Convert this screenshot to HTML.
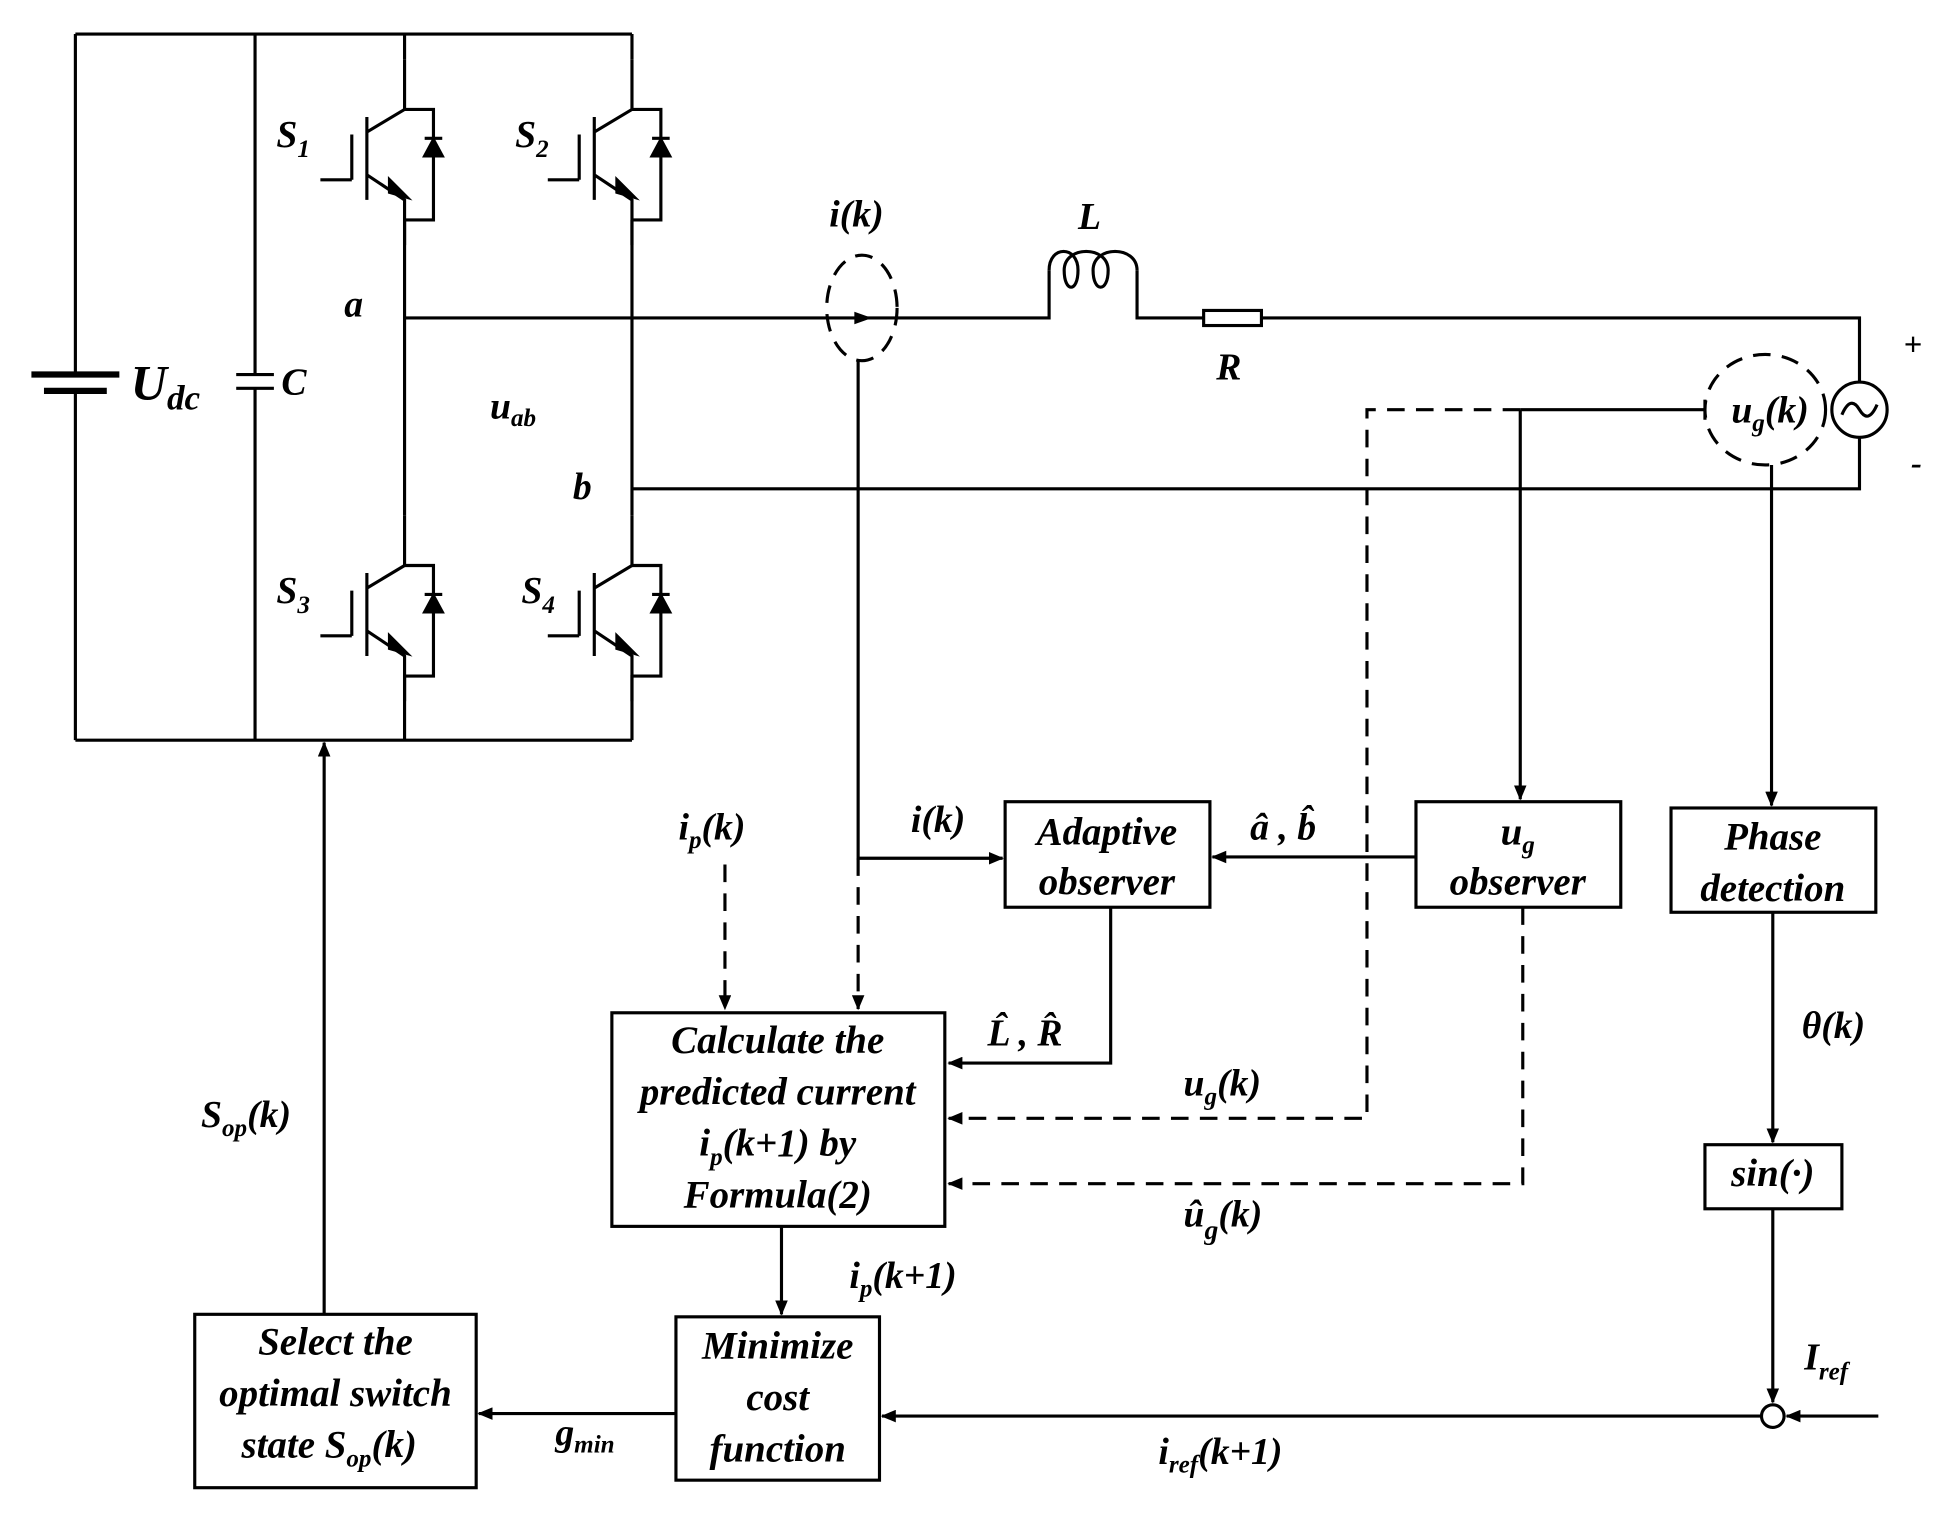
<!DOCTYPE html>
<html><head><meta charset="utf-8"><style>
html,body{margin:0;padding:0;background:#fff}
svg{display:block}
text{font-family:"Liberation Serif",serif;font-weight:bold;font-style:italic;fill:#000}
</style></head><body>
<svg width="1960" height="1523" viewBox="0 0 1560 1212" xmlns="http://www.w3.org/2000/svg">
<defs>
<marker id="a" markerWidth="12" markerHeight="10" refX="11" refY="5" orient="auto" markerUnits="userSpaceOnUse"><path d="M0,0 L12,5 L0,10 z" fill="#000"/></marker>
<g id="igbt">
<line x1="0" y1="0" x2="0" y2="40" />
<path d="M0,40 L-30,58 M-30,46 V112 M-42,60 V96 M-67,96 H-42 M-30,92 L0,112 V148" />
<path d="M-12,96 L2,110 L-12,106 z" fill="#000"/>
<path d="M0,40 H23 V128 H0" />
<path d="M16,77 H30 L23,64 z" fill="#000"/>
<line x1="16" y1="63" x2="30" y2="63"/>
</g>
</defs>
<g fill="none" stroke="#000" stroke-width="2.5">
<path d="M60,27 H503 M60,589 H503 M60,27 V296 M60,313 V589 M203,27 V298 M203,309 V589"/>
<line x1="25" y1="298" x2="95" y2="298" stroke-width="5"/>
<line x1="35" y1="311" x2="85" y2="311" stroke-width="5"/>
<path d="M188,298 H218 M188,309 H218"/>
<path d="M322,27 V47 M322,175 V410 M322,537 V589 M503,27 V47 M503,175 V410 M503,537 V589"/>
<use href="#igbt" x="322" y="47"/>
<use href="#igbt" x="503" y="47"/>
<use href="#igbt" x="322" y="410"/>
<use href="#igbt" x="503" y="410"/>
<path d="M322,253 H835 V215 M905,215 V253 H958 M1004,253 H1480 V304 M1480,348 V389 H503"/>
<path d="M835,215 C835,195 858,195 858,215 C858,233 847,233 847,215 C847,195 882,195 882,215 C882,233 870,233 870,215 C870,195 905,195 905,215"/>
<rect x="958" y="247" width="46" height="12"/>
<circle cx="1480" cy="326" r="22"/>
<path d="M1466,330 q7,-16 14,-4 q7,12 14,-4"/>
<ellipse cx="686" cy="245" rx="28" ry="42" stroke-dasharray="14,9"/>
<ellipse cx="1405" cy="326" rx="48" ry="44" stroke-dasharray="14,9"/>
<rect x="800" y="638" width="163" height="84"/>
<rect x="1127" y="638" width="163" height="84"/>
<rect x="1330" y="643" width="163" height="83"/>
<rect x="487" y="806" width="265" height="170"/>
<rect x="538" y="1048" width="162" height="130"/>
<rect x="155" y="1046" width="224" height="138"/>
<rect x="1357" y="911" width="109" height="51"/>
<circle cx="1411" cy="1127" r="9"/>
<path d="M683,287 V683 H798" marker-end="url(#a)"/>
<path d="M683,683 V803" stroke-dasharray="14,9" marker-end="url(#a)"/>
<path d="M577,688 V803" stroke-dasharray="14,9" marker-end="url(#a)"/>
<path d="M1357,326 H1210"/>
<path d="M1357,318 V334"/>
<path d="M1210,326 H1088 V890 H755" stroke-dasharray="14,9" marker-end="url(#a)"/>
<path d="M1210,326 V636" marker-end="url(#a)"/>
<path d="M1410,370 V641" marker-end="url(#a)"/>
<path d="M1127,682 H965" marker-end="url(#a)"/>
<path d="M884,722 V846 H755" marker-end="url(#a)"/>
<path d="M1212,722 V942 H755" stroke-dasharray="14,9" marker-end="url(#a)"/>
<path d="M622,976 V1046" marker-end="url(#a)"/>
<path d="M538,1125 H381" marker-end="url(#a)"/>
<path d="M258,1046 V591" marker-end="url(#a)"/>
<path d="M1411,726 V909" marker-end="url(#a)"/>
<path d="M1411,962 V1116" marker-end="url(#a)"/>
<path d="M1495,1127 H1422" marker-end="url(#a)"/>
<path d="M1402,1127 H702" marker-end="url(#a)"/>
</g>
<path d="M680,248 L694,253 L680,258 z" fill="#000"/>
<g font-size="30">
<text x="220" y="117">S<tspan font-size="20" dy="8">1</tspan></text>
<text x="410" y="117">S<tspan font-size="20" dy="8">2</tspan></text>
<text x="220" y="480">S<tspan font-size="20" dy="8">3</tspan></text>
<text x="415" y="480">S<tspan font-size="20" dy="8">4</tspan></text>
<text x="274" y="252">a</text>
<text x="456" y="397">b</text>
<text x="390" y="333">u<tspan font-size="20" dy="6">ab</tspan></text>
<text x="104" y="318" font-size="40">U<tspan font-size="28" dy="8">dc</tspan></text>
<text x="224" y="314">C</text>
<text x="660" y="180">i(k)</text>
<text x="858" y="182">L</text>
<text x="968" y="302">R</text>
<text x="1515" y="283" font-style="normal" font-weight="normal" font-family="Liberation Sans,sans-serif" font-size="26">+</text>
<text x="1521" y="377" font-style="normal" font-weight="normal" font-family="Liberation Sans,sans-serif" font-size="26">-</text>
<text x="1378" y="336">u<tspan font-size="20" dy="7">g</tspan><tspan dy="-7">(k)</tspan></text>
<text x="725" y="662">i(k)</text>
<text x="540" y="668">i<tspan font-size="20" dy="7">p</tspan><tspan dy="-7">(k)</tspan></text>
<text x="995" y="668">â , b̂</text>
<text x="786" y="832">L̂ , R̂</text>
<text x="942" y="872">u<tspan font-size="20" dy="7">g</tspan><tspan dy="-7">(k)</tspan></text>
<text x="942" y="976">û<tspan font-size="22" dy="10">g</tspan><tspan dy="-10">(k)</tspan></text>
<text x="676" y="1025">i<tspan font-size="20" dy="7">p</tspan><tspan dy="-7">(k+1)</tspan></text>
<text x="442" y="1150">g<tspan font-size="20" dy="6">min</tspan></text>
<text x="922" y="1165">i<tspan font-size="20" dy="7">ref</tspan><tspan dy="-7">(k+1)</tspan></text>
<text x="1436" y="1090">I<tspan font-size="20" dy="8">ref</tspan></text>
<text x="1434" y="826">θ(k)</text>
<text x="160" y="897">S<tspan font-size="20" dy="7">op</tspan><tspan dy="-7">(k)</tspan></text>
<g text-anchor="middle" font-size="31">
<text x="881" y="672">Adaptive</text>
<text x="881" y="712">observer</text>
<text x="1208" y="672">u<tspan font-size="20" dy="7">g</tspan></text>
<text x="1208" y="712">observer</text>
<text x="1411" y="676">Phase</text>
<text x="1411" y="717">detection</text>
<text x="619" y="838">Calculate the</text>
<text x="619" y="879">predicted current</text>
<text x="619" y="920">i<tspan font-size="20" dy="7">p</tspan><tspan dy="-7">(k+1) by</tspan></text>
<text x="619" y="961">Formula(2)</text>
<text x="619" y="1081">Minimize</text>
<text x="619" y="1122">cost</text>
<text x="619" y="1163">function</text>
<text x="267" y="1078">Select the</text>
<text x="267" y="1119">optimal switch</text>
<text x="262" y="1160">state S<tspan font-size="20" dy="7">op</tspan><tspan dy="-7">(k)</tspan></text>
<text x="1411" y="944">sin(·)</text>
</g>
</g>
</svg>
</body></html>
